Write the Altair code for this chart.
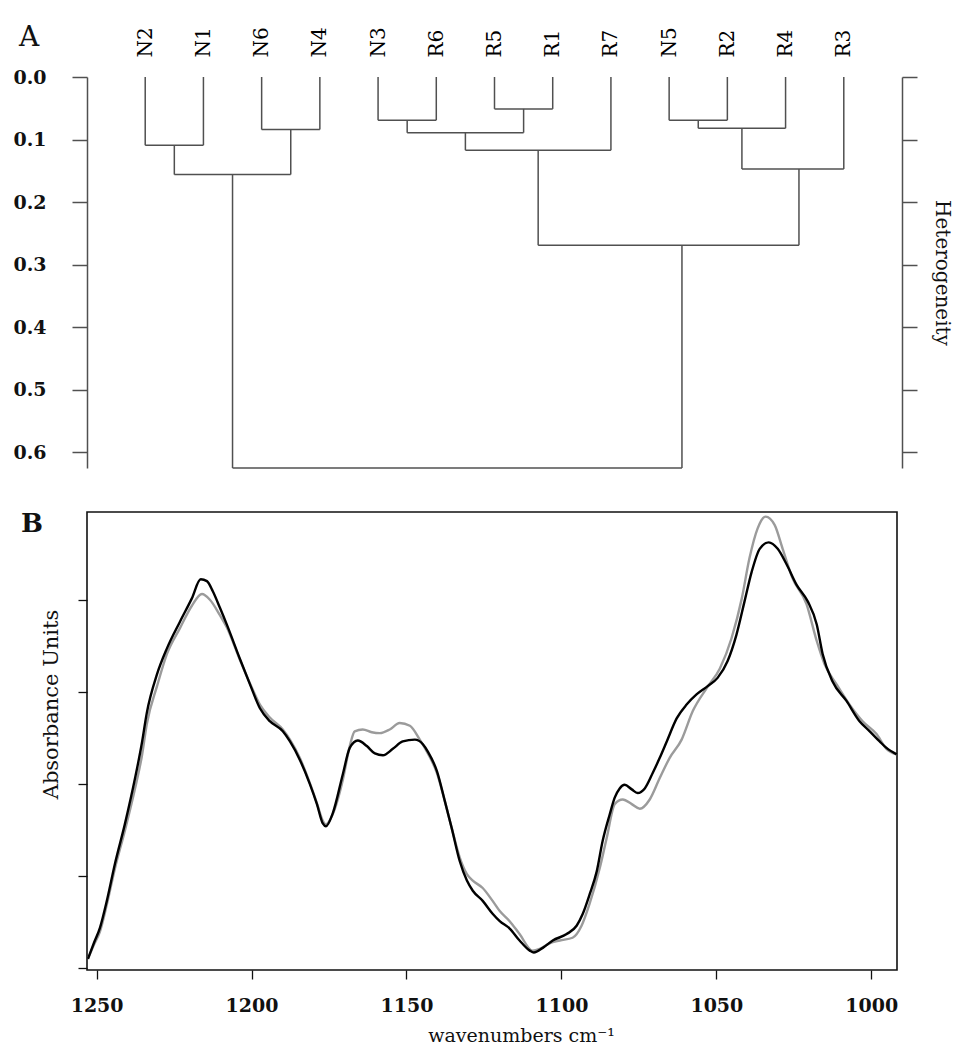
import altair as alt
import pandas as pd

# ---------------- Panel A: dendrogram ----------------
leaves = ["N2", "N1", "N6", "N4", "N3", "R6", "R5", "R1", "R7", "N5", "R2", "R4", "R3"]
merge_left = ["N2", "N6", "m1", "N3", "R5", "m4", "m6", "N5", "m8", "m9", "m7", "m3"]
merge_right = ["N1", "N4", "m2", "R6", "R1", "m5", "R7", "R2", "R4", "R3", "m10", "m11"]
merge_height = [0.109, 0.084, 0.156, 0.069, 0.051, 0.089, 0.117, 0.069, 0.082, 0.147, 0.269, 0.625]
merge_pos = [1.5, 3.5, 2.5, 5.5, 7.5, 6.5, 7.75, 10.5, 11.25, 12.23, 10.22, 6.36]
height_ticks = [0.0, 0.1, 0.2, 0.3, 0.4, 0.5, 0.6]

# ---------------- Panel B: spectra ----------------
wn_black = [1252.8, 1250.9, 1248.9, 1246.7, 1244.1, 1240.9, 1237.6, 1235.4, 1233.8, 1230.5,
            1227.3, 1223.1, 1219.3, 1216.4, 1214.4, 1212.5, 1210.2, 1208.0, 1203.8, 1200.5,
            1197.3, 1194.1, 1189.9, 1187.6, 1184.4, 1181.2, 1178.9, 1177.0, 1176.0, 1173.8,
            1170.5, 1168.3, 1165.7, 1162.8, 1160.2, 1157.6, 1154.4, 1151.2, 1147.3, 1144.7,
            1143.1, 1140.2, 1137.6, 1135.4, 1132.8, 1130.5, 1128.6, 1125.4, 1122.2, 1119.9,
            1116.7, 1113.5, 1110.2, 1108.9, 1106.0, 1102.8, 1098.3, 1095.1, 1093.1, 1090.9,
            1088.6, 1086.7, 1084.4, 1082.8, 1081.2, 1079.6, 1077.3, 1075.4, 1073.1, 1070.5,
            1068.3, 1066.0, 1062.8, 1059.6, 1056.4, 1052.8, 1049.6, 1046.4, 1043.5, 1040.9,
            1038.6, 1036.0, 1033.1, 1030.2, 1027.3, 1024.1, 1020.5, 1017.6, 1015.7, 1012.5,
            1008.0, 1003.8, 1000.5, 997.3, 995.1, 991.8]
ab_black = [0.010, 0.027, 0.044, 0.073, 0.113, 0.156, 0.206, 0.244, 0.277, 0.319,
            0.347, 0.376, 0.401, 0.422, 0.420, 0.409, 0.391, 0.373, 0.336, 0.308,
            0.282, 0.268, 0.257, 0.246, 0.226, 0.200, 0.178, 0.157, 0.154, 0.168,
            0.211, 0.239, 0.247, 0.241, 0.233, 0.231, 0.238, 0.246, 0.248, 0.243,
            0.235, 0.214, 0.181, 0.152, 0.116, 0.095, 0.084, 0.073, 0.059, 0.051,
            0.043, 0.030, 0.019, 0.017, 0.022, 0.030, 0.037, 0.046, 0.059, 0.080,
            0.105, 0.138, 0.167, 0.185, 0.195, 0.199, 0.194, 0.190, 0.195, 0.212,
            0.228, 0.246, 0.271, 0.286, 0.297, 0.306, 0.315, 0.333, 0.362, 0.398,
            0.430, 0.455, 0.462, 0.455, 0.438, 0.416, 0.398, 0.373, 0.341, 0.311,
            0.290, 0.268, 0.257, 0.246, 0.239, 0.232]
wn_gray = [1252.8, 1250.9, 1248.9, 1246.7, 1244.1, 1240.9, 1237.6, 1235.4, 1233.8, 1230.5,
           1227.3, 1223.1, 1219.3, 1216.0, 1213.5, 1210.2, 1208.0, 1203.8, 1200.5, 1197.3,
           1194.1, 1189.9, 1187.6, 1184.4, 1181.2, 1178.9, 1177.0, 1176.0, 1173.8, 1170.5,
           1168.3, 1166.7, 1164.1, 1161.2, 1158.6, 1155.4, 1152.2, 1148.9, 1145.7, 1143.1,
           1140.2, 1137.6, 1135.4, 1132.8, 1130.5, 1128.6, 1125.4, 1122.2, 1119.9, 1116.7,
           1113.5, 1109.3, 1107.0, 1103.8, 1100.5, 1096.4, 1093.5, 1090.9, 1087.6, 1085.4,
           1082.8, 1080.2, 1077.3, 1074.7, 1071.5, 1068.3, 1065.1, 1061.2, 1057.6, 1053.1,
           1048.9, 1045.1, 1041.8, 1039.3, 1036.7, 1034.1, 1031.2, 1028.6, 1025.4, 1020.9,
           1017.6, 1015.1, 1011.2, 1007.0, 1002.8, 998.3, 995.1, 991.8]
ab_gray = [0.010, 0.025, 0.040, 0.069, 0.108, 0.149, 0.195, 0.230, 0.265, 0.306,
           0.341, 0.369, 0.393, 0.406, 0.400, 0.383, 0.370, 0.335, 0.309, 0.286,
           0.272, 0.259, 0.248, 0.228, 0.201, 0.179, 0.160, 0.156, 0.167, 0.205,
           0.241, 0.257, 0.259, 0.256, 0.255, 0.259, 0.266, 0.263, 0.248, 0.233,
           0.212, 0.181, 0.152, 0.120, 0.102, 0.095, 0.087, 0.073, 0.062, 0.051,
           0.037, 0.019, 0.021, 0.027, 0.030, 0.033, 0.046, 0.070, 0.109, 0.141,
           0.178, 0.183, 0.178, 0.173, 0.183, 0.206, 0.228, 0.248, 0.279, 0.304,
           0.325, 0.358, 0.401, 0.445, 0.477, 0.490, 0.481, 0.455, 0.423, 0.395,
           0.355, 0.330, 0.308, 0.286, 0.268, 0.254, 0.238, 0.232]
wn_ticks = [1250, 1200, 1150, 1100, 1050, 1000]
ab_ticks = [0.0, 0.1, 0.2, 0.3, 0.4]

FONT = "DejaVu Serif"
LINE_GRAY = "#505050"

# ---- build dendrogram segments from the merge table ----
pos = {name: i + 1 for i, name in enumerate(leaves)}
hgt = {name: 0.0 for name in leaves}
rows = []
for k, (a, b, h, p) in enumerate(zip(merge_left, merge_right, merge_height, merge_pos)):
    xa, xb = pos[a], pos[b]
    rows.append({"x": xa, "x2": xa, "y": hgt[a], "y2": h})
    rows.append({"x": xb, "x2": xb, "y": hgt[b], "y2": h})
    rows.append({"x": xa, "x2": xb, "y": h, "y2": h})
    pos[f"m{k + 1}"] = p
    hgt[f"m{k + 1}"] = h
segs = pd.DataFrame(rows)

label_array = "[" + ",".join(f"'{n}'" for n in leaves) + "]"

x_dend = alt.X(
    "x:Q",
    scale=alt.Scale(domain=[0, 14], nice=False, zero=False),
    axis=alt.Axis(
        orient="top", values=list(range(1, len(leaves) + 1)),
        labelExpr=label_array + "[datum.value - 1]",
        labelAngle=270, labelAlign="left", labelBaseline="middle",
        labelPadding=20, labelFont=FONT, labelFontSize=20, labelColor="#000",
        ticks=False, domain=False, grid=False, title=None, labelOverlap=False,
    ),
)
y_scale_dend = alt.Scale(domain=[0, 0.625], reverse=True, nice=False, zero=False)

left_layer = alt.Chart(segs).mark_rule(color=LINE_GRAY, strokeWidth=1.5).encode(
    x=x_dend, x2="x2:Q",
    y=alt.Y("y:Q", scale=y_scale_dend,
            axis=alt.Axis(orient="left", values=height_ticks, format=".1f",
                          tickSize=15, tickColor=LINE_GRAY, domainColor=LINE_GRAY,
                          tickWidth=1.5, domainWidth=1.5,
                          labelFont=FONT, labelFontSize=19, labelFontWeight="bold",
                          labelColor="#111", labelPadding=26, grid=False, title=None)),
    y2="y2:Q",
)
right_layer = alt.Chart(segs).mark_rule(strokeOpacity=0).encode(
    x=x_dend,
    x2="x2:Q",
    y=alt.Y("y:Q", scale=y_scale_dend,
            axis=alt.Axis(orient="right", values=height_ticks, labels=False,
                          tickSize=15, tickColor=LINE_GRAY, domainColor=LINE_GRAY,
                          tickWidth=1.5, domainWidth=1.5, grid=False,
                          title="Heterogeneity", titleFont=FONT, titleFontSize=20,
                          titleFontWeight="normal", titleColor="#111",
                          titleAngle=90, titlePadding=14)),
    y2="y2:Q",
)
panel_a = alt.layer(left_layer, right_layer).resolve_axis(y="independent").properties(
    width=815, height=391,
    title=alt.TitleParams("A", anchor="start", frame="group", font=FONT, fontSize=28,
                          fontWeight="normal", color="#111", dx=-68, dy=11, offset=-14),
    view=alt.ViewBackground(stroke=None),
)

# ---- spectra ----
df_black = pd.DataFrame({"wn": wn_black, "ab": ab_black})
df_gray = pd.DataFrame({"wn": wn_gray, "ab": ab_gray})

x_spec = alt.X(
    "wn:Q",
    scale=alt.Scale(domain=[991.7, 1253.1], reverse=True, nice=False, zero=False),
    axis=alt.Axis(values=wn_ticks, format="d", tickSize=9, tickColor="#111", tickWidth=1.3,
                  domain=False, grid=False, labelFont=FONT, labelFontSize=19,
                  labelFontWeight="bold", labelColor="#111", labelPadding=17,
                  title="wavenumbers cm⁻¹", titleFont=FONT, titleFontSize=19,
                  titleFontWeight="normal", titleColor="#111", titlePadding=11,
                  titleX=434),
)
y_spec = alt.Y(
    "ab:Q",
    scale=alt.Scale(domain=[-0.002, 0.495], nice=False, zero=False),
    axis=alt.Axis(values=ab_ticks, labels=False, tickSize=9, tickColor="#111",
                  tickWidth=1.3, domain=False, grid=False,
                  title="Absorbance Units", titleFont=FONT, titleFontSize=21,
                  titleFontWeight="normal", titleColor="#111", titlePadding=16,
                  titleY=192),
)

gray_line = alt.Chart(df_gray).mark_line(color="#9b9b9b", strokeWidth=2.4,
                                         interpolate="monotone").encode(x=x_spec, y=y_spec)
black_line = alt.Chart(df_black).mark_line(color="#000000", strokeWidth=2.4,
                                           interpolate="monotone").encode(x=x_spec, y=y_spec)

panel_b = alt.layer(gray_line, black_line).properties(
    width=810, height=458,
    title=alt.TitleParams("B", anchor="start", frame="group", font=FONT, fontSize=26,
                          fontWeight="bold", color="#111", dx=-66, dy=25, offset=0),
    view=alt.ViewBackground(stroke="#111", strokeWidth=1.6),
)

chart = alt.vconcat(panel_a, panel_b, spacing=41).properties(
    padding={"left": 4, "top": 15, "right": 3, "bottom": 0},
).configure(background="white")

chart.save("out.html", embed_options={"renderer": "svg", "actions": False})
